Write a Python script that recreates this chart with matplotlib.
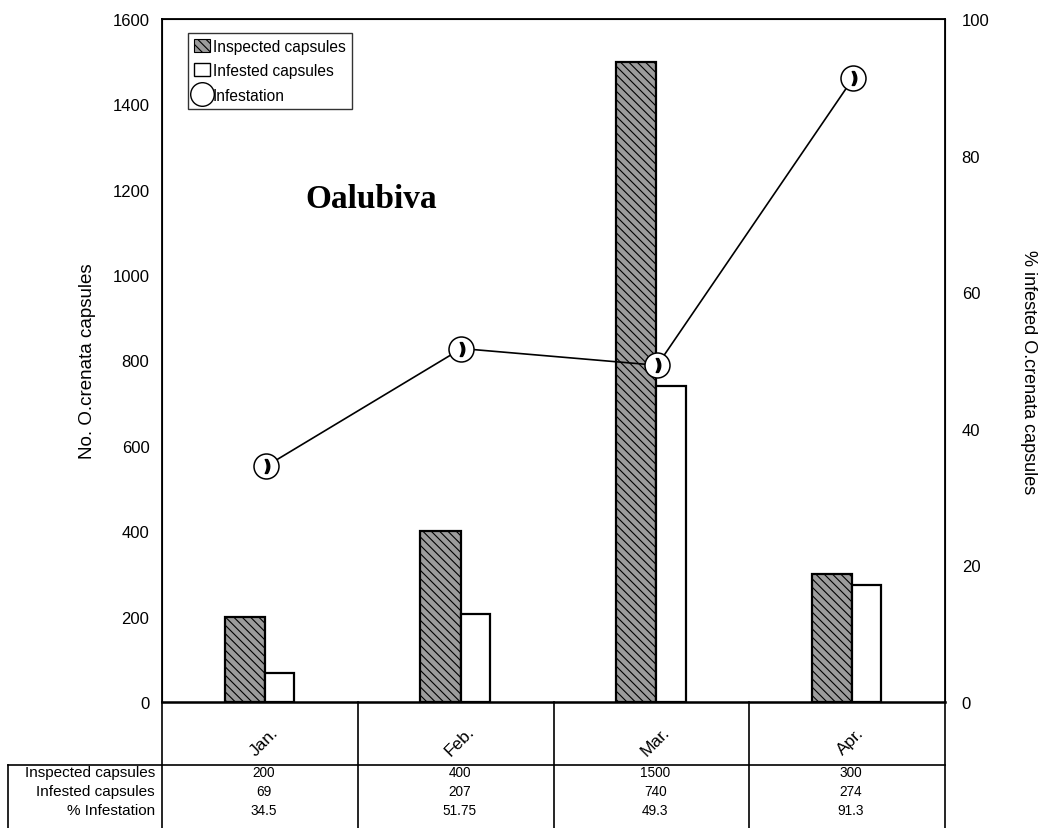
import numpy as np
import matplotlib
matplotlib.use("Agg")
import matplotlib.pyplot as plt
from matplotlib.lines import Line2D
from matplotlib.patches import Patch

# ── data ────────────────────────────────────────────────────────────────
months = ["Jan.", "Feb.", "Mar.", "Apr."]
inspected = [200, 400, 1500, 300]
infested = [69, 207, 740, 274]
pct_infest = [34.5, 51.75, 49.3, 91.3]
pct_labels = ["34.5", "51.75", "49.3", "91.3"]
row_names = ["Inspected capsules", "Infested capsules", "% Infestation"]

plt.rcParams.update({
    "font.family": ["Liberation Sans", "DejaVu Sans"],
    "hatch.linewidth": 0.8,
    "hatch.color": "#333333",
})

W, H = 1062, 829
fig = plt.figure(figsize=(W / 100, H / 100), dpi=100)
# plot frame in pixels: x 162..945, y 20..703
L, R, T, B = 162, 945, 20, 703
ax = fig.add_axes([L / W, 1 - B / H, (R - L) / W, (B - T) / H])

x = np.arange(len(months))
ax.bar(x - 0.18, inspected, width=0.205, align="edge", facecolor="#9c9c9c",
       edgecolor="black", linewidth=1.6, hatch="\\\\\\\\", zorder=2)
ax.bar(x + 0.025, infested, width=0.15, align="edge", facecolor="white",
       edgecolor="black", linewidth=1.6, zorder=2)

ax.set_xlim(-0.5, 3.5)
ax.set_ylim(0, 1600)
ax.set_yticks(np.arange(0, 1601, 200))
ax.set_xticks([])
ax.tick_params(axis="y", length=0, labelsize=12, pad=9)
for s in ax.spines.values():
    s.set_linewidth(1.3)
ax.spines["bottom"].set_linewidth(1.8)
ax.set_ylabel("No. O.crenata capsules", fontsize=13.5, labelpad=12)

ax2 = ax.twinx()
ax2.set_ylim(0, 100)
ax2.set_yticks(np.arange(0, 101, 20))
ax2.tick_params(axis="y", length=0, labelsize=12, pad=12)
ax2.set_ylabel("% infested O.crenata capsules", fontsize=13, rotation=270,
               labelpad=32)
ax2.yaxis.set_label_coords(1.117, 0.485)
ax2.plot(x + 0.03, pct_infest, color="black", lw=1.2, marker="o",
         markersize=18, markerfacecolor="white", markeredgecolor="black",
         markeredgewidth=1.1, zorder=3)
ax2.plot(x + 0.035, pct_infest, linestyle="none", marker=r"$\mathbf{)}$",
         markersize=10, color="black", zorder=4)

ax.text(0.183, 0.737, "Oalubiva", transform=ax.transAxes, fontsize=24,
        fontweight="bold", family=["Liberation Serif", "DejaVu Serif"],
        ha="left", va="center")

handles = [
    Patch(facecolor="#9c9c9c", edgecolor="black", hatch="\\\\\\\\", lw=0.8),
    Patch(facecolor="white", edgecolor="black", lw=1.0),
    Line2D([0], [0], color="black", lw=1.0, marker="o", markersize=17,
           markerfacecolor="white", markeredgecolor="black"),
]
leg = ax.legend(handles, ["Inspected capsules", "Infested capsules", "Infestation"],
                loc="upper left", bbox_to_anchor=(0.033, 0.98), borderaxespad=0,
                fontsize=11.2, frameon=True, fancybox=False, handlelength=1.0,
                handleheight=0.9, handletextpad=0.2, labelspacing=0.6,
                borderpad=0.4)
leg.get_frame().set_edgecolor("black")
leg.get_frame().set_linewidth(1.0)
leg.set_zorder(5)

# ── data table under the axis ───────────────────────────────────────────
bt = ax.get_xaxis_transform()      # x in data, y in axes fraction
def yfrac(py):
    return (B - py) / (B - T)

y_bottom = yfrac(829)
for xb in np.arange(-0.5, 3.6, 1.0):
    ax.plot([xb, xb], [0, y_bottom], transform=bt, color="black", lw=1.2,
            clip_on=False)
fig.add_artist(Line2D([8 / W, R / W], [1 - 766 / H] * 2,
                      transform=fig.transFigure, color="black", lw=1.2))
fig.add_artist(Line2D([8 / W, 8 / W], [1 - 766 / H, 0],
                      transform=fig.transFigure, color="black", lw=1.2))

for i, m in enumerate(months):
    ax.text(i + 0.02, yfrac(742), m, transform=bt, rotation=45, fontsize=12.5,
            ha="center", va="center")

rows = [[str(v) for v in inspected], [str(v) for v in infested], pct_labels]
row_y = [773, 792, 811]
for name, vals, py in zip(row_names, rows, row_y):
    fig.text(155 / W, 1 - py / H, name, fontsize=11, ha="right", va="center")
    for i, v in enumerate(vals):
        ax.text(i + 0.02, yfrac(py), v, transform=bt, fontsize=9.8,
                ha="center", va="center")

fig.savefig("out.png", dpi=100)
